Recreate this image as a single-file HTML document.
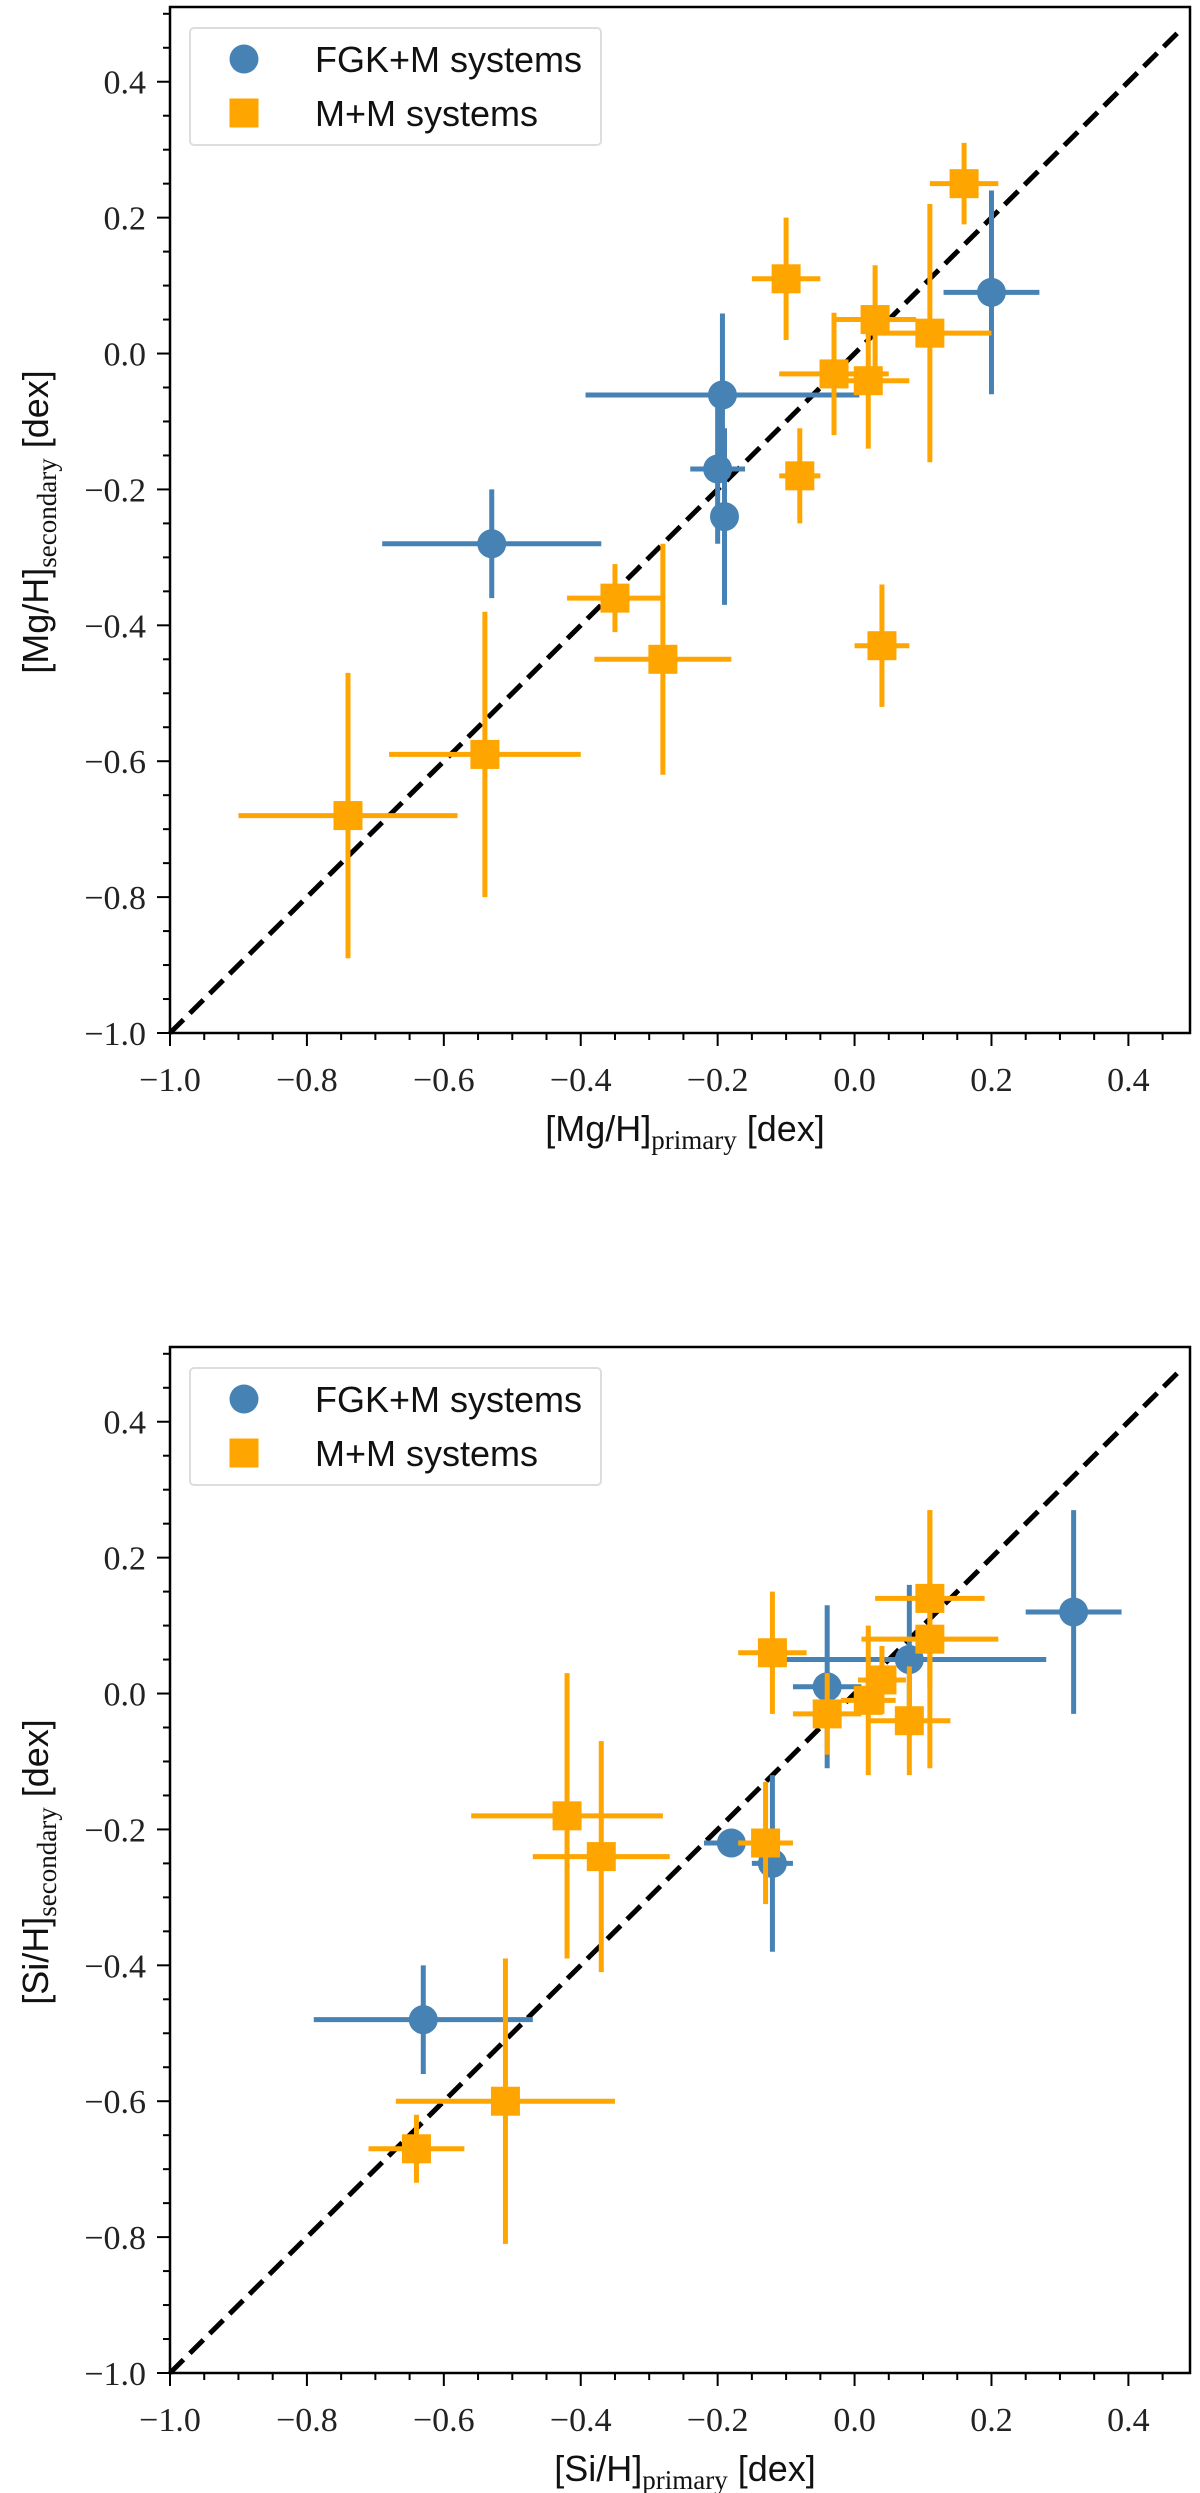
<!DOCTYPE html>
<html><head><meta charset="utf-8">
<style>
html,body{margin:0;padding:0;background:#fff;}
svg{display:block;}
.tick{font-family:"Liberation Serif",serif;font-size:34px;fill:#222;}
.lab{font-family:"Liberation Sans",sans-serif;font-size:36px;fill:#111;}
.leg{font-family:"Liberation Sans",sans-serif;font-size:36px;fill:#111;}
</style></head>
<body>
<svg id="fig" width="1200" height="2493" viewBox="0 0 1200 2493" xmlns="http://www.w3.org/2000/svg"></svg>
<script>
// ---- Panel 1: Mg ----
const mgFgkX = [-0.53, -0.193, -0.20, -0.19, 0.20];
const mgFgkY = [-0.28, -0.061, -0.17, -0.24, 0.09];
const mgFgkXerr = [0.16, 0.20, 0.04, 0.0, 0.07];
const mgFgkYerr = [0.08, 0.12, 0.11, 0.13, 0.15];
const mgMmX = [-0.74, -0.54, -0.35, -0.28, -0.10, -0.08, -0.03, 0.03, 0.02, 0.11, 0.16, 0.04];
const mgMmY = [-0.68, -0.59, -0.36, -0.45, 0.11, -0.18, -0.03, 0.05, -0.04, 0.03, 0.25, -0.43];
const mgMmXerr = [0.16, 0.14, 0.07, 0.10, 0.05, 0.03, 0.08, 0.06, 0.06, 0.09, 0.05, 0.04];
const mgMmYerr = [0.21, 0.21, 0.05, 0.17, 0.09, 0.07, 0.09, 0.08, 0.10, 0.19, 0.06, 0.09];
// ---- Panel 2: Si ----
const siFgkX = [-0.63, -0.18, -0.12, -0.04, 0.08, 0.32];
const siFgkY = [-0.48, -0.22, -0.25, 0.01, 0.05, 0.12];
const siFgkXerr = [0.16, 0.04, 0.03, 0.05, 0.20, 0.07];
const siFgkYerr = [0.08, 0.0, 0.13, 0.12, 0.11, 0.15];
const siMmX = [-0.64, -0.51, -0.42, -0.37, -0.13, -0.12, -0.04, 0.02, 0.04, 0.08, 0.11, 0.11];
const siMmY = [-0.67, -0.60, -0.18, -0.24, -0.22, 0.06, -0.03, -0.01, 0.02, -0.04, 0.08, 0.14];
const siMmXerr = [0.07, 0.16, 0.14, 0.10, 0.04, 0.05, 0.05, 0.04, 0.035, 0.06, 0.10, 0.08];
const siMmYerr = [0.05, 0.21, 0.21, 0.17, 0.09, 0.09, 0.06, 0.11, 0.05, 0.08, 0.19, 0.13];
const tickVals = [-1.0, -0.8, -0.6, -0.4, -0.2, 0.0, 0.2, 0.4];
const tickLabels = ["\u22121.0", "\u22120.8", "\u22120.6", "\u22120.4", "\u22120.2", "0.0", "0.2", "0.4"];

const NS = "http://www.w3.org/2000/svg";
const fig = document.getElementById('fig');
function mk(tag, attrs, parent) {
  const e = document.createElementNS(NS, tag);
  for (const k in attrs) e.setAttribute(k, attrs[k]);
  parent.appendChild(e);
  return e;
}
const BLUE = "#4682b4", ORANGE = "#ffa500";

function panel(top, elem, fx, fy, fxe, fye, mx, my, mxe, mye) {
  const L = 170, R = 1190, T = top, B = top + 1026;
  const xmin = -1.0, xmax = 0.49, ymin = -1.0, ymax = 0.51;
  const sx = v => L + (v - xmin) / (xmax - xmin) * (R - L);
  const sy = v => B - (v - ymin) / (ymax - ymin) * (B - T);
  const g = mk('g', {}, fig);
  
  

  const d = mk('line', {x1: sx(-1), y1: sy(-1), x2: sx(0.48), y2: sy(0.48), stroke: '#000', 'stroke-width': 5, 'stroke-dasharray': '19,9'}, g);
  
  

  function series(xs, ys, xe, ye, color, kind) {
    const sg = mk('g', {}, g);
    
    
    for (let i = 0; i < xs.length; i++) {
      const cx = sx(xs[i]), cy = sy(ys[i]);
      const eb = mk('g', {stroke: color, 'stroke-width': 5}, sg);
      
      
      mk('line', {x1: sx(xs[i] - xe[i]), y1: cy, x2: sx(xs[i] + xe[i]), y2: cy}, eb);
      mk('line', {x1: cx, y1: sy(ys[i] - ye[i]), x2: cx, y2: sy(ys[i] + ye[i])}, eb);
    }
    for (let i = 0; i < xs.length; i++) {
      const cx = sx(xs[i]), cy = sy(ys[i]);
      let m;
      if (kind === 'circle') m = mk('circle', {cx: cx, cy: cy, r: 14.5, fill: color}, sg);
      else m = mk('rect', {x: cx - 14.5, y: cy - 14.5, width: 29, height: 29, fill: color}, sg);
      
      
    }
  }
  series(fx, fy, fxe, fye, BLUE, 'circle');
  series(mx, my, mxe, mye, ORANGE, 'square');

  const fr = mk('rect', {x: L, y: T, width: R - L, height: B - T, fill: 'none', stroke: '#000', 'stroke-width': 2.5}, g);
  
  

  const ax = mk('g', {stroke: '#000', 'stroke-width': 2}, g);
  
  
  for (let k = 0; k <= 30; k++) {
    const v = -1 + k * 0.05;
    const major = k % 4 === 0;
    const len = major ? 13 : 7;
    if (v <= xmax + 1e-6) mk('line', {x1: sx(v), y1: B, x2: sx(v), y2: B + len}, ax);
    if (v <= ymax + 1e-6) mk('line', {x1: L, y1: sy(v), x2: L - len, y2: sy(v)}, ax);
  }
  for (let i = 0; i < tickVals.length; i++) {
    const xt = mk('text', {x: sx(tickVals[i]), y: B + 58, 'text-anchor': 'middle', class: 'tick'}, g);
    xt.textContent = tickLabels[i];
    
    
    const yt = mk('text', {x: L - 24, y: sy(tickVals[i]) + 12, 'text-anchor': 'end', class: 'tick'}, g);
    yt.textContent = tickLabels[i];
    
    
  }

  const xl = mk('text', {x: 685, y: B + 108, 'text-anchor': 'middle', class: 'lab'}, g);
  
  
  xl.innerHTML = '[' + elem + '/H]<tspan dy="8" style="font-family:\'Liberation Serif\',serif;font-size:27px">primary</tspan><tspan dy="-8"> [dex]</tspan>';
  const yl = mk('text', {x: 0, y: 0, 'text-anchor': 'middle', class: 'lab', transform: 'translate(48,' + (T + 515) + ') rotate(-90)'}, g);
  
  
  yl.innerHTML = '[' + elem + '/H]<tspan dy="8" style="font-family:\'Liberation Serif\',serif;font-size:27px">secondary</tspan><tspan dy="-8"> [dex]</tspan>';

  const lg = mk('g', {}, g);
  
  
  mk('rect', {x: 190, y: T + 21, width: 411, height: 117, rx: 4, fill: '#fff', stroke: '#ddd', 'stroke-width': 2}, lg);
  const e1 = mk('g', {}, lg);
  
  
  mk('circle', {cx: 244, cy: T + 52, r: 14.5, fill: BLUE}, e1);
  const t1 = mk('text', {x: 315, y: T + 65, class: 'leg'}, e1);
  t1.textContent = 'FGK+M systems';
  const e2 = mk('g', {}, lg);
  
  
  mk('rect', {x: 229.5, y: T + 91.5, width: 29, height: 29, fill: ORANGE}, e2);
  const t2 = mk('text', {x: 315, y: T + 119, class: 'leg'}, e2);
  t2.textContent = 'M+M systems';
}

panel(7, 'Mg', mgFgkX, mgFgkY, mgFgkXerr, mgFgkYerr, mgMmX, mgMmY, mgMmXerr, mgMmYerr);
panel(1347, 'Si', siFgkX, siFgkY, siFgkXerr, siFgkYerr, siMmX, siMmY, siMmXerr, siMmYerr);
</script>
</body></html>
